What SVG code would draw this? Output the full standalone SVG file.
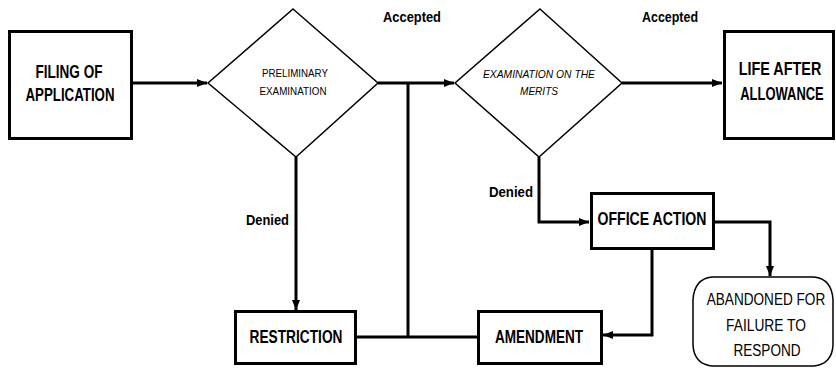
<svg xmlns="http://www.w3.org/2000/svg" width="836" height="368" viewBox="0 0 836 368">
<style>
.box{fill:#fff;stroke:#000;stroke-width:3}
.dia{fill:#fff;stroke:#000;stroke-width:1.5}
.ln{fill:none;stroke:#000;stroke-width:3}
.bt{font-family:"Liberation Sans",Arial,sans-serif;font-weight:bold;fill:#000;text-anchor:middle}
.tt{font-family:"Liberation Sans",Arial,sans-serif;fill:#000;text-anchor:middle}
.lb{font-family:"Liberation Sans",Arial,sans-serif;font-weight:bold;fill:#000;font-size:14px}
</style>
<defs>
<marker id="ah" markerUnits="userSpaceOnUse" markerWidth="10" markerHeight="10" viewBox="0 0 10 10" refX="10" refY="5" orient="auto">
<path d="M0,1 L10,5 L0,9 Z" fill="#000"/>
</marker>
</defs>
<rect width="836" height="368" fill="#fff"/>
<g id="connectors">
<path class="ln" d="M132,83 H207" marker-end="url(#ah)"/>
<path class="ln" d="M378,83 H454" marker-end="url(#ah)"/>
<path class="ln" d="M622,83 H722" marker-end="url(#ah)"/>
<path class="ln" d="M296,157 V310" marker-end="url(#ah)"/>
<path class="ln" d="M408,83 V337"/>
<path class="ln" d="M356,337 H478"/>
<path class="ln" d="M539,157 V222 H589" marker-end="url(#ah)"/>
<path class="ln" d="M714,222 H770 V276" marker-end="url(#ah)"/>
<path class="ln" d="M652,249 V335 H603" marker-end="url(#ah)"/>
<text class="lb" x="383" y="22" textLength="58" lengthAdjust="spacingAndGlyphs">Accepted</text>
<text class="lb" x="642" y="22" textLength="56" lengthAdjust="spacingAndGlyphs">Accepted</text>
<text class="lb" x="246" y="225" textLength="43" lengthAdjust="spacingAndGlyphs">Denied</text>
<text class="lb" x="489" y="197" textLength="44" lengthAdjust="spacingAndGlyphs">Denied</text>
</g>
<g id="filing">
<rect class="box" x="9.5" y="31.5" width="122" height="107"/>
<text class="bt" x="69" y="78" font-size="19" textLength="67" lengthAdjust="spacingAndGlyphs">FILING OF</text>
<text class="bt" x="70" y="101" font-size="19" textLength="89" lengthAdjust="spacingAndGlyphs">APPLICATION</text>
</g>
<g id="prelim">
<path class="dia" d="M293,9 L378,83 L296,157 L208,83 Z"/>
<text class="tt" x="295" y="77" font-size="11" textLength="66" lengthAdjust="spacingAndGlyphs">PRELIMINARY</text>
<text class="tt" x="293" y="95" font-size="11" textLength="67" lengthAdjust="spacingAndGlyphs">EXAMINATION</text>
</g>
<g id="merits">
<path class="dia" d="M540,9 L622,83 L539,157 L455,83 Z"/>
<text class="tt" x="539" y="78" font-size="11" font-style="italic" textLength="112" lengthAdjust="spacingAndGlyphs">EXAMINATION ON THE</text>
<text class="tt" x="539" y="95" font-size="11" font-style="italic" textLength="38" lengthAdjust="spacingAndGlyphs">MERITS</text>
</g>
<g id="life">
<rect class="box" x="724.5" y="31.5" width="109" height="107"/>
<text class="bt" font-size="18" transform="translate(780,75) scale(0.8,1)" x="0" y="0">LIFE AFTER</text>
<text class="bt" font-size="18" transform="translate(782,100) scale(0.72,1)" x="0" y="0">ALLOWANCE</text>
</g>
<g id="restriction">
<rect class="box" x="235.5" y="311.5" width="120" height="52"/>
<text class="bt" x="296" y="343" font-size="19" textLength="93" lengthAdjust="spacingAndGlyphs">RESTRICTION</text>
</g>
<g id="amendment">
<rect class="box" x="478.5" y="311.5" width="123" height="52"/>
<text class="bt" x="539" y="343" font-size="19" textLength="88" lengthAdjust="spacingAndGlyphs">AMENDMENT</text>
</g>
<g id="office">
<rect class="box" x="591.5" y="193.5" width="122" height="55"/>
<text class="bt" x="652" y="225" font-size="19" textLength="109" lengthAdjust="spacingAndGlyphs">OFFICE ACTION</text>
</g>
<g id="abandoned">
<path d="M712,277 H814 Q832,279 833,300 V345 Q832,364 814,366 H712 Q694,364 693,345 V300 Q694,279 712,277 Z" fill="#fff" stroke="#000" stroke-width="1.5"/>
<text class="tt" font-size="17" transform="translate(766,305) scale(0.8,1)" x="0" y="0">ABANDONED FOR</text>
<text class="tt" font-size="17" transform="translate(766,331) scale(0.81,1)" x="0" y="0">FAILURE TO</text>
<text class="tt" font-size="17" transform="translate(767,356) scale(0.8,1)" x="0" y="0">RESPOND</text>
</g>
</svg>
